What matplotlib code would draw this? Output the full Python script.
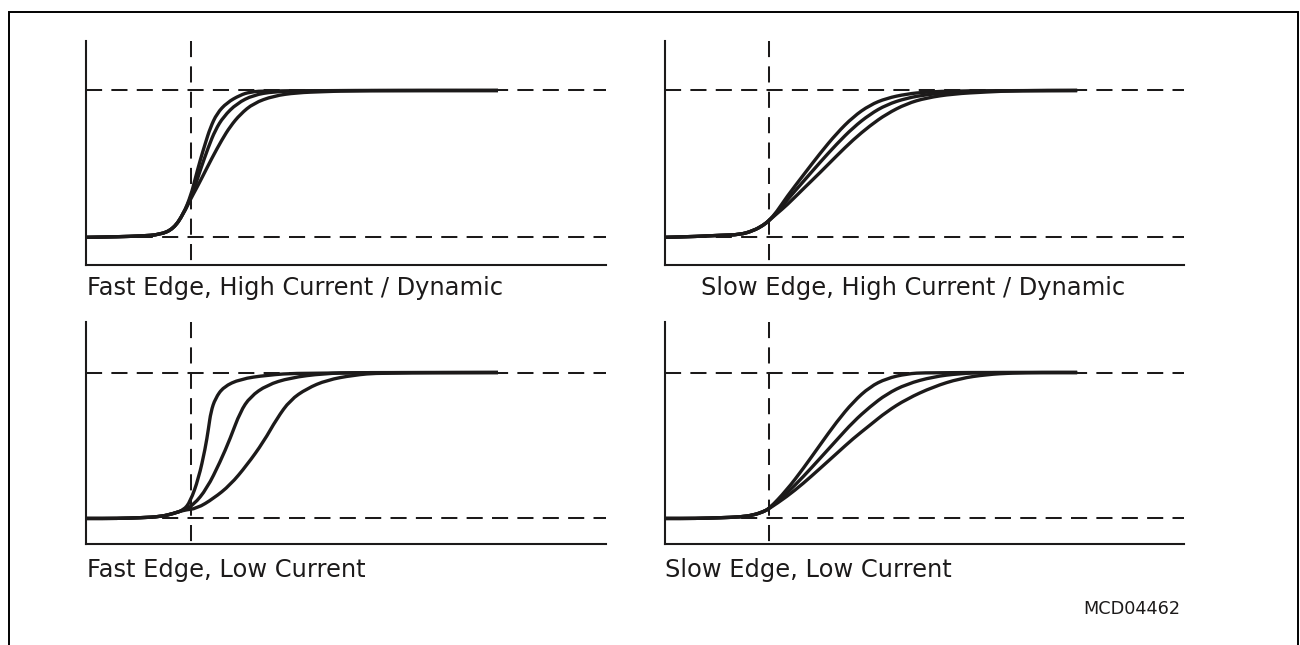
import matplotlib
matplotlib.use("Agg")
import matplotlib.pyplot as plt
from matplotlib.lines import Line2D
from matplotlib.path import Path
from matplotlib.patches import PathPatch

# ---------------- data (time in units of edge reference, level 0 = low, 1 = high) ----------------
TITLES = ["Fast Edge, High Current / Dynamic", "Slow Edge, High Current / Dynamic",
          "Fast Edge, Low Current", "Slow Edge, Low Current"]
CODE_LABEL = "MCD04462"

LOW_LEVEL = 0.0
HIGH_LEVEL = 1.0
EDGE_TIME = 1.0

# Panel 1: fast edge, high current / dynamic
FH_X = [
    [0, 0.3, 0.515, 0.706, 0.834, 0.929, 1.0, 1.041, 1.089, 1.137, 1.185, 1.249, 1.344, 1.472, 1.567, 1.727, 3.94],
    [0, 0.3, 0.515, 0.706, 0.834, 0.929, 1.0, 1.045, 1.089, 1.168, 1.233, 1.312, 1.44, 1.599, 1.791, 2.1, 3.94],
    [0, 0.3, 0.515, 0.706, 0.834, 0.929, 1.0, 1.05, 1.105, 1.201, 1.297, 1.376, 1.472, 1.599, 1.791, 2.014, 2.27, 2.6, 3.94],
]
FH_Y = [
    [0, 0.004, 0.009, 0.018, 0.059, 0.161, 0.287, 0.4, 0.526, 0.639, 0.746, 0.844, 0.917, 0.969, 0.99, 0.999, 1.0],
    [0, 0.004, 0.009, 0.018, 0.059, 0.161, 0.275, 0.36, 0.457, 0.617, 0.73, 0.822, 0.912, 0.969, 0.992, 1.0, 1.0],
    [0, 0.004, 0.009, 0.018, 0.059, 0.161, 0.265, 0.33, 0.405, 0.54, 0.665, 0.755, 0.838, 0.913, 0.963, 0.985, 0.992, 1.0, 1.0],
]

# Panel 2: slow edge, high current / dynamic
SH_X = [
    [0, 0.3, 0.527, 0.718, 0.846, 0.942, 1.0, 1.07, 1.166, 1.325, 1.485, 1.645, 1.804, 1.964, 2.123, 2.315, 2.507, 2.8, 3.95],
    [0, 0.3, 0.527, 0.718, 0.846, 0.942, 1.0, 1.07, 1.166, 1.325, 1.485, 1.645, 1.804, 1.964, 2.123, 2.315, 2.507, 2.762, 3.1, 3.95],
    [0, 0.3, 0.527, 0.718, 0.846, 0.942, 1.0, 1.07, 1.166, 1.325, 1.485, 1.645, 1.804, 1.964, 2.123, 2.315, 2.507, 2.762, 3.08, 3.4, 3.95],
]
SH_Y = [
    [0, 0.006, 0.014, 0.018, 0.045, 0.082, 0.116, 0.173, 0.275, 0.423, 0.571, 0.708, 0.821, 0.901, 0.947, 0.976, 0.99, 0.998, 1.0],
    [0, 0.006, 0.014, 0.018, 0.045, 0.082, 0.116, 0.168, 0.25, 0.38, 0.51, 0.635, 0.748, 0.838, 0.903, 0.948, 0.972, 0.989, 0.998, 1.0],
    [0, 0.006, 0.014, 0.018, 0.045, 0.082, 0.116, 0.16, 0.218, 0.33, 0.44, 0.555, 0.665, 0.76, 0.84, 0.91, 0.95, 0.977, 0.99, 1.0, 1.0],
]

# Panel 3: fast edge, low current
FL_X = [
    [0, 0.3, 0.515, 0.706, 0.834, 0.929, 0.993, 1.073, 1.137, 1.168, 1.191, 1.233, 1.312, 1.472, 1.727, 2.046, 3.94],
    [0, 0.3, 0.515, 0.706, 0.834, 0.929, 1.025, 1.153, 1.28, 1.376, 1.472, 1.568, 1.727, 1.95, 2.269, 2.6, 3.94],
    [0, 0.3, 0.515, 0.706, 0.834, 0.929, 1.057, 1.216, 1.376, 1.536, 1.695, 1.823, 1.95, 2.11, 2.301, 2.556, 2.81, 3.94],
]
FL_Y = [
    [0, 0.0, 0.005, 0.012, 0.034, 0.057, 0.114, 0.274, 0.479, 0.616, 0.731, 0.822, 0.902, 0.955, 0.982, 0.998, 1.0],
    [0, 0.0, 0.005, 0.012, 0.034, 0.057, 0.092, 0.205, 0.388, 0.548, 0.731, 0.834, 0.914, 0.964, 0.993, 1.0, 1.0],
    [0, 0.0, 0.005, 0.012, 0.034, 0.057, 0.068, 0.137, 0.229, 0.366, 0.525, 0.685, 0.811, 0.89, 0.948, 0.982, 0.998, 1.0],
]

# Panel 4: slow edge, low current
SL_X = [
    [0, 0.3, 0.527, 0.718, 0.846, 0.942, 1.0, 1.166, 1.325, 1.485, 1.645, 1.804, 1.964, 2.123, 2.315, 2.507, 3.95],
    [0, 0.3, 0.527, 0.718, 0.846, 0.942, 1.0, 1.166, 1.325, 1.485, 1.645, 1.804, 1.964, 2.123, 2.315, 2.571, 2.826, 3.08, 3.95],
    [0, 0.3, 0.527, 0.718, 0.846, 0.942, 1.0, 1.166, 1.325, 1.485, 1.645, 1.804, 1.964, 2.123, 2.315, 2.571, 2.826, 3.08, 3.336, 3.6, 3.95],
]
SL_Y = [
    [0, 0.0, 0.005, 0.01, 0.023, 0.046, 0.068, 0.194, 0.342, 0.503, 0.662, 0.799, 0.902, 0.959, 0.991, 1.0, 1.0],
    [0, 0.0, 0.005, 0.01, 0.023, 0.046, 0.068, 0.171, 0.286, 0.411, 0.537, 0.662, 0.765, 0.852, 0.921, 0.971, 0.993, 1.0, 1.0],
    [0, 0.0, 0.005, 0.01, 0.023, 0.046, 0.068, 0.149, 0.24, 0.342, 0.445, 0.548, 0.639, 0.731, 0.818, 0.902, 0.959, 0.986, 0.997, 1.0, 1.0],
]

PANELS_X = [FH_X, SH_X, FL_X, SL_X]
PANELS_Y = [FH_Y, SH_Y, FL_Y, SL_Y]


def smooth_path(xs, ys):
    """Quadratic-Bezier path through the read points (points act as control points)."""
    pts = list(zip(xs, ys))
    verts = [pts[0]]
    codes = [Path.MOVETO]
    mid = lambda a, b: ((a[0] + b[0]) / 2, (a[1] + b[1]) / 2)
    verts.append(mid(pts[0], pts[1]))
    codes.append(Path.LINETO)
    for i in range(1, len(pts) - 1):
        verts += [pts[i], mid(pts[i], pts[i + 1])]
        codes += [Path.CURVE3, Path.CURVE3]
    verts.append(pts[-1])
    codes.append(Path.LINETO)
    return Path(verts, codes)


# ---------------- figure ----------------
W, H = 1300, 645
fig = plt.figure(figsize=(W / 100, H / 100), dpi=100)
fig.patch.set_facecolor("white")

INK = "#1c1a1a"
FONT = "DejaVu Sans"

# axes rectangles in pixels: left, top, right, bottom
rects = [(86.5, 41, 606, 264.5), (665, 41, 1184, 264.5),
         (86.5, 322, 606, 544), (665, 322, 1184, 544)]
ylims = [(-0.185, 1.337), (-0.185, 1.337), (-0.175, 1.346), (-0.175, 1.346)]
dash = (0, (8.0, 4.6))

for i, (l, t, r, b) in enumerate(rects):
    ax = fig.add_axes([l / W, 1 - b / H, (r - l) / W, (b - t) / H])
    ax.set_xlim(0, 4.974)
    ax.set_ylim(*ylims[i])
    for s in ("top", "right"):
        ax.spines[s].set_visible(False)
    for s in ("left", "bottom"):
        ax.spines[s].set_linewidth(1.5)
        ax.spines[s].set_color(INK)
    ax.set_xticks([])
    ax.set_yticks([])
    ax.patch.set_alpha(0)
    ax.axhline(LOW_LEVEL, ls=dash, lw=1.45, color=INK, zorder=1)
    ax.axhline(HIGH_LEVEL, ls=dash, lw=1.45, color=INK, zorder=1)
    # vertical reference line, dash pattern starting at the top
    ax.plot([EDGE_TIME, EDGE_TIME], [1, 0], transform=ax.get_xaxis_transform(),
            ls=dash, lw=1.45, color=INK, zorder=1)
    for xs, ys in zip(PANELS_X[i], PANELS_Y[i]):
        patch = PathPatch(smooth_path(xs, ys), fill=False, edgecolor=INK, lw=2.4,
                          joinstyle="round", capstyle="butt", zorder=3,
                          transform=ax.transData, clip_on=False)
        ax.add_patch(patch)

# titles
title_pos = [(87, 294.5), (701, 294.5), (87, 576.5), (665, 576.5)]
for (x, y), txt in zip(title_pos, TITLES):
    fig.text(x / W, 1 - y / H, txt, fontsize=17.4, family=FONT, color=INK,
             ha="left", va="baseline")

fig.text(1180 / W, 1 - 614.5 / H, CODE_LABEL, fontsize=12.7, family=FONT,
         color=INK, ha="right", va="baseline")

# outer frame (open at the bottom)
fx0, fx1, fy = 8.7 / W, 1298.3 / W, 1 - 12.3 / H
fig.add_artist(Line2D([fx0, fx0, fx1, fx1], [-0.01, fy, fy, -0.01],
                      transform=fig.transFigure, color="black", lw=1.4,
                      solid_joinstyle="miter"))

fig.savefig("out.png", dpi=100, facecolor="white")
